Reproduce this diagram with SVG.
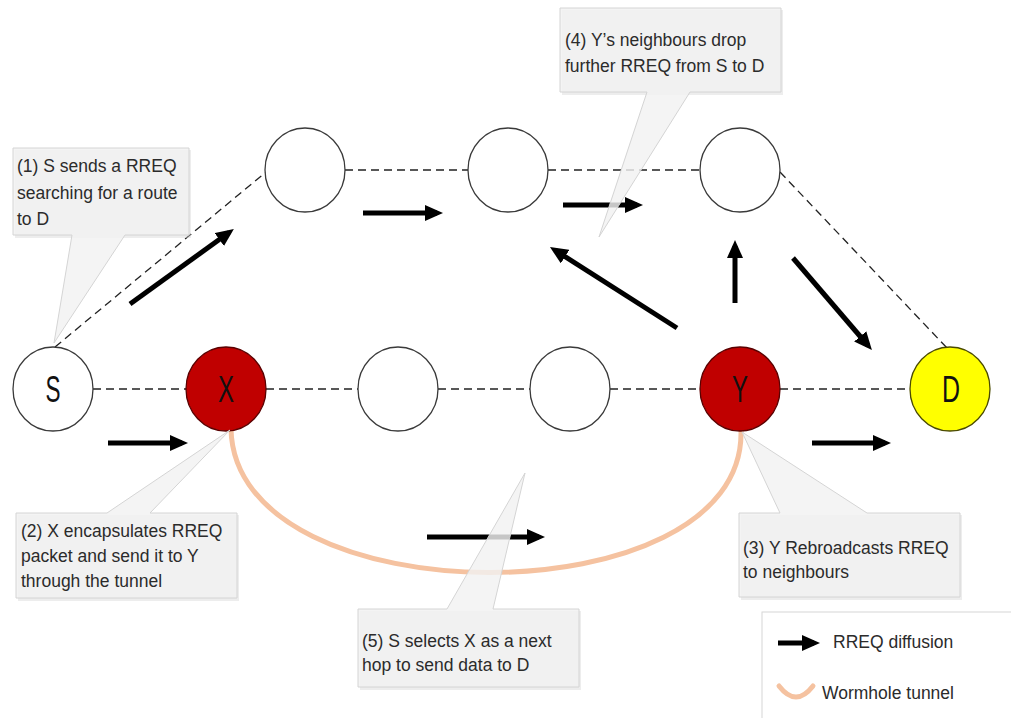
<svg xmlns="http://www.w3.org/2000/svg" width="1011" height="718" viewBox="0 0 1011 718">
  <style>
    .node { stroke: #3a3a3a; stroke-width: 1.3; }
    .plain { fill: #ffffff; }
    .rogue { fill: #c00000; stroke: #5a0000; }
    .dest { fill: #ffff00; stroke: #4a4a00; }
    .nlabel { font-family: "Liberation Sans", Arial, sans-serif; font-size: 36px; fill: #111; text-anchor: middle; }
    .link { stroke: #222; stroke-width: 1.3; stroke-dasharray: 8 5; fill: none; }
    .flow { stroke: #000; stroke-width: 5; fill: none; marker-end: url(#head); }
    .tunnel { stroke: #f5c2a0; stroke-width: 5; fill: none; stroke-linecap: round; }
    .callout { fill: #f2f2f2; fill-opacity: 0.82; stroke: #d4d4d4; stroke-width: 1; }
    .shadow { fill: #d2d2d2; opacity: 0.4; }
    .ctext { font-family: "Liberation Sans", Arial, sans-serif; font-size: 17.5px; fill: #2b2b2b; }
  </style>
  <defs>
    <marker id="head" markerUnits="userSpaceOnUse" viewBox="0 0 18 16" markerWidth="18" markerHeight="16" refX="12" refY="8" orient="auto">
      <path d="M0 0 L18 8 L0 16 Z" fill="#000"/>
    </marker>
  </defs>

  <rect width="1011" height="718" fill="#ffffff"/>

  <!-- dashed radio links and the wormhole tunnel -->
  <g id="connectors">
    <line class="link" x1="55" y1="347" x2="266" y2="172"/>
    <line class="link" x1="345" y1="170" x2="468" y2="170"/>
    <line class="link" x1="548" y1="170" x2="700" y2="170"/>
    <line class="link" x1="780" y1="172" x2="947" y2="348"/>
    <line class="link" x1="93" y1="389" x2="186" y2="389"/>
    <line class="link" x1="266" y1="389" x2="358" y2="389"/>
    <line class="link" x1="438" y1="389" x2="530" y2="389"/>
    <line class="link" x1="610" y1="389" x2="700" y2="389"/>
    <line class="link" x1="780" y1="389" x2="910" y2="389"/>
    <path class="tunnel" d="M231 429 C235 620, 745 620, 741 431"/>
  </g>

  <!-- RREQ diffusion arrows -->
  <g id="flows">
    <line class="flow" x1="108" y1="443" x2="182" y2="443"/>
    <line class="flow" x1="130" y1="304" x2="229" y2="232.5"/>
    <line class="flow" x1="363" y1="213" x2="437" y2="213"/>
    <line class="flow" x1="563" y1="205" x2="637" y2="205"/>
    <line class="flow" x1="677" y1="328" x2="555" y2="250.2"/>
    <line class="flow" x1="735" y1="303" x2="735" y2="246"/>
    <line class="flow" x1="793" y1="258" x2="868" y2="345.5"/>
    <line class="flow" x1="812" y1="443" x2="885" y2="443"/>
    <line class="flow" x1="427" y1="537" x2="539" y2="537"/>
  </g>

  <!-- nodes -->
  <g id="node-S"><ellipse class="node plain" cx="53" cy="389" rx="40" ry="42"/><text class="nlabel" x="53" y="402" textLength="15" lengthAdjust="spacingAndGlyphs">S</text></g>
  <g id="node-X"><ellipse class="node rogue" cx="226" cy="389" rx="40" ry="42"/><text class="nlabel" x="226" y="402" textLength="16" lengthAdjust="spacingAndGlyphs">X</text></g>
  <g id="node-m1"><ellipse class="node plain" cx="398" cy="389" rx="40" ry="42"/></g>
  <g id="node-m2"><ellipse class="node plain" cx="570" cy="389" rx="40" ry="42"/></g>
  <g id="node-Y"><ellipse class="node rogue" cx="740" cy="389" rx="40" ry="42"/><text class="nlabel" x="740" y="402" textLength="16" lengthAdjust="spacingAndGlyphs">Y</text></g>
  <g id="node-D"><ellipse class="node dest" cx="950" cy="389" rx="40" ry="42"/><text class="nlabel" x="951" y="402" textLength="18" lengthAdjust="spacingAndGlyphs">D</text></g>
  <g id="node-t1"><ellipse class="node plain" cx="305" cy="170" rx="40" ry="42"/></g>
  <g id="node-t2"><ellipse class="node plain" cx="508" cy="170" rx="40" ry="42"/></g>
  <g id="node-t3"><ellipse class="node plain" cx="740" cy="170" rx="40" ry="42"/></g>

  <!-- step callouts -->
  <g id="callout-1">
    <path class="shadow" d="M15 150 H191 V238 H15 Z"/>
    <path class="callout" d="M13 148 H189 V235 H125 L54 343 L72 235 H13 Z"/>
    <text class="ctext" x="17" y="172">(1) S sends a RREQ</text>
    <text class="ctext" x="17" y="199">searching for a route</text>
    <text class="ctext" x="17" y="225">to D</text>
  </g>
  <g id="callout-4">
    <path class="shadow" d="M562 10 H783 V95 H562 Z"/>
    <path class="callout" d="M560 8 H781 V92 H690 L599 237 L647 92 H560 Z"/>
    <text class="ctext" x="565" y="46">(4) Y’s neighbours drop</text>
    <text class="ctext" x="565" y="72">further RREQ from S to D</text>
  </g>
  <g id="callout-2">
    <path class="shadow" d="M18 515 H239 V601 H18 Z"/>
    <path class="callout" d="M16 513 H107 L230 430 L150 513 H237 V598 H16 Z"/>
    <text class="ctext" x="21" y="537">(2) X encapsulates RREQ</text>
    <text class="ctext" x="21" y="562">packet and send it to Y</text>
    <text class="ctext" x="21" y="587">through the tunnel</text>
  </g>
  <g id="callout-3">
    <path class="shadow" d="M741 515 H962 V600 H741 Z"/>
    <path class="callout" d="M739 513 H780 L742 432 L867 513 H960 V597 H739 Z"/>
    <text class="ctext" x="743" y="554">(3) Y Rebroadcasts RREQ</text>
    <text class="ctext" x="743" y="578">to neighbours</text>
  </g>
  <g id="callout-5">
    <path class="shadow" d="M360 611 H581 V690 H360 Z"/>
    <path class="callout" d="M358 609 H447 L525 473 L493 609 H579 V687 H358 Z"/>
    <text class="ctext" x="362" y="647">(5) S selects X as a next</text>
    <text class="ctext" x="362" y="671">hop to send data to D</text>
  </g>

  <!-- legend -->
  <g id="legend">
    <rect x="762" y="612" width="260" height="120" fill="#ffffff" stroke="#d6d6d6" stroke-width="1"/>
    <line class="flow" x1="778" y1="643" x2="814" y2="643"/>
    <text class="ctext" x="833" y="648">RREQ diffusion</text>
    <path class="tunnel" d="M779 686 Q796 708 813 686" stroke-width="6"/>
    <text class="ctext" x="822" y="699">Wormhole tunnel</text>
  </g>
</svg>
